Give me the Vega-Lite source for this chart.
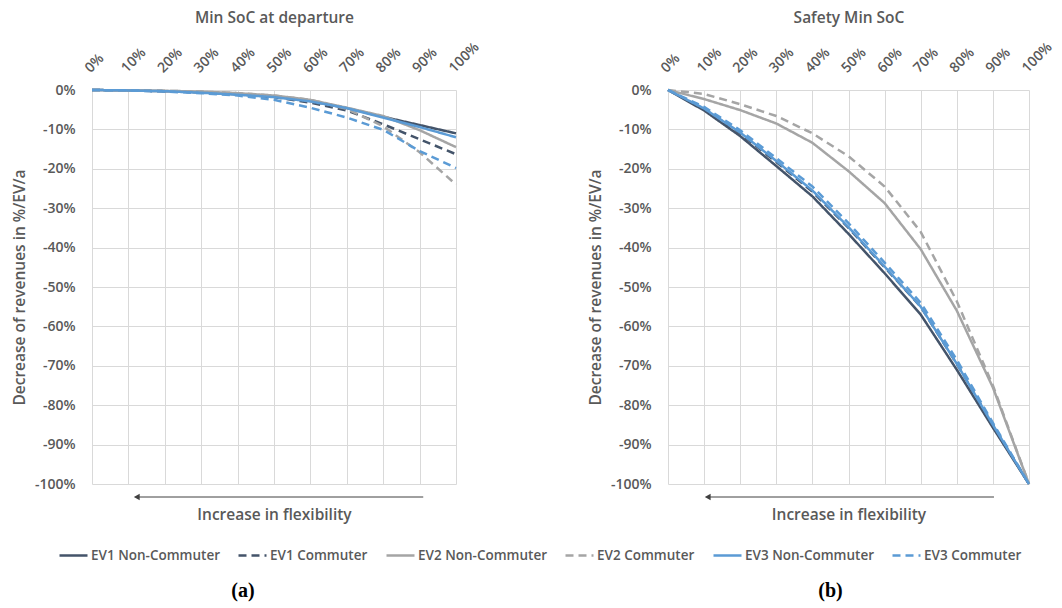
{
  "$schema": "https://vega.github.io/schema/vega-lite/v6.json",
  "padding": {"left": 12, "top": 10, "right": 5, "bottom": 5},
  "background": "white",
  "config": {
    "font": "Open Sans",
    "view": {"stroke": null},
    "axis": {
      "labelFont": "Open Sans", "labelFontWeight": 600, "labelFontSize": 14, "labelColor": "#595959", "labelOverlap": false,
      "titleFont": "Open Sans", "titleFontWeight": 600, "titleFontSize": 15.5, "titleColor": "#595959",
      "gridColor": "#d9d9d9", "gridWidth": 1, "domain": false, "ticks": false
    },
    "legend": {
      "labelFont": "Open Sans", "labelFontWeight": 600, "labelFontSize": 13.5, "labelColor": "#595959"
    }
  },
  "datasets": {
    "a": [
      {"soc":0,"rev":0,"series":"EV1 Non-Commuter"},{"soc":10,"rev":-0.1,"series":"EV1 Non-Commuter"},{"soc":20,"rev":-0.3,"series":"EV1 Non-Commuter"},{"soc":30,"rev":-0.6,"series":"EV1 Non-Commuter"},{"soc":40,"rev":-1.1,"series":"EV1 Non-Commuter"},{"soc":50,"rev":-1.7,"series":"EV1 Non-Commuter"},{"soc":60,"rev":-2.8,"series":"EV1 Non-Commuter"},{"soc":70,"rev":-4.6,"series":"EV1 Non-Commuter"},{"soc":80,"rev":-6.8,"series":"EV1 Non-Commuter"},{"soc":90,"rev":-8.9,"series":"EV1 Non-Commuter"},{"soc":100,"rev":-11,"series":"EV1 Non-Commuter"},
      {"soc":0,"rev":0,"series":"EV1 Commuter"},{"soc":10,"rev":-0.1,"series":"EV1 Commuter"},{"soc":20,"rev":-0.3,"series":"EV1 Commuter"},{"soc":30,"rev":-0.6,"series":"EV1 Commuter"},{"soc":40,"rev":-1.1,"series":"EV1 Commuter"},{"soc":50,"rev":-1.8,"series":"EV1 Commuter"},{"soc":60,"rev":-3.2,"series":"EV1 Commuter"},{"soc":70,"rev":-5.2,"series":"EV1 Commuter"},{"soc":80,"rev":-8.7,"series":"EV1 Commuter"},{"soc":90,"rev":-12.5,"series":"EV1 Commuter"},{"soc":100,"rev":-16.3,"series":"EV1 Commuter"},
      {"soc":0,"rev":0,"series":"EV2 Non-Commuter"},{"soc":10,"rev":-0.1,"series":"EV2 Non-Commuter"},{"soc":20,"rev":-0.2,"series":"EV2 Non-Commuter"},{"soc":30,"rev":-0.4,"series":"EV2 Non-Commuter"},{"soc":40,"rev":-0.8,"series":"EV2 Non-Commuter"},{"soc":50,"rev":-1.4,"series":"EV2 Non-Commuter"},{"soc":60,"rev":-2.5,"series":"EV2 Non-Commuter"},{"soc":70,"rev":-4.5,"series":"EV2 Non-Commuter"},{"soc":80,"rev":-6.6,"series":"EV2 Non-Commuter"},{"soc":90,"rev":-10.2,"series":"EV2 Non-Commuter"},{"soc":100,"rev":-14.5,"series":"EV2 Non-Commuter"},
      {"soc":0,"rev":0,"series":"EV2 Commuter"},{"soc":10,"rev":-0.1,"series":"EV2 Commuter"},{"soc":20,"rev":-0.2,"series":"EV2 Commuter"},{"soc":30,"rev":-0.4,"series":"EV2 Commuter"},{"soc":40,"rev":-0.8,"series":"EV2 Commuter"},{"soc":50,"rev":-1.4,"series":"EV2 Commuter"},{"soc":60,"rev":-2.5,"series":"EV2 Commuter"},{"soc":70,"rev":-4.8,"series":"EV2 Commuter"},{"soc":80,"rev":-9.2,"series":"EV2 Commuter"},{"soc":90,"rev":-15.8,"series":"EV2 Commuter"},{"soc":100,"rev":-24,"series":"EV2 Commuter"},
      {"soc":0,"rev":0,"series":"EV3 Non-Commuter"},{"soc":10,"rev":-0.1,"series":"EV3 Non-Commuter"},{"soc":20,"rev":-0.3,"series":"EV3 Non-Commuter"},{"soc":30,"rev":-0.7,"series":"EV3 Non-Commuter"},{"soc":40,"rev":-1.2,"series":"EV3 Non-Commuter"},{"soc":50,"rev":-1.8,"series":"EV3 Non-Commuter"},{"soc":60,"rev":-2.9,"series":"EV3 Non-Commuter"},{"soc":70,"rev":-4.6,"series":"EV3 Non-Commuter"},{"soc":80,"rev":-7,"series":"EV3 Non-Commuter"},{"soc":90,"rev":-9.4,"series":"EV3 Non-Commuter"},{"soc":100,"rev":-12,"series":"EV3 Non-Commuter"},
      {"soc":0,"rev":0,"series":"EV3 Commuter"},{"soc":10,"rev":-0.1,"series":"EV3 Commuter"},{"soc":20,"rev":-0.4,"series":"EV3 Commuter"},{"soc":30,"rev":-0.8,"series":"EV3 Commuter"},{"soc":40,"rev":-1.4,"series":"EV3 Commuter"},{"soc":50,"rev":-2.5,"series":"EV3 Commuter"},{"soc":60,"rev":-4.5,"series":"EV3 Commuter"},{"soc":70,"rev":-7,"series":"EV3 Commuter"},{"soc":80,"rev":-10.1,"series":"EV3 Commuter"},{"soc":90,"rev":-15.5,"series":"EV3 Commuter"},{"soc":100,"rev":-19.8,"series":"EV3 Commuter"}
    ],
    "b": [
      {"soc":0,"rev":0,"series":"EV1 Non-Commuter"},{"soc":10,"rev":-5.2,"series":"EV1 Non-Commuter"},{"soc":20,"rev":-11.7,"series":"EV1 Non-Commuter"},{"soc":30,"rev":-19.3,"series":"EV1 Non-Commuter"},{"soc":40,"rev":-27,"series":"EV1 Non-Commuter"},{"soc":50,"rev":-36.5,"series":"EV1 Non-Commuter"},{"soc":60,"rev":-46.5,"series":"EV1 Non-Commuter"},{"soc":70,"rev":-57,"series":"EV1 Non-Commuter"},{"soc":80,"rev":-71,"series":"EV1 Non-Commuter"},{"soc":90,"rev":-85.7,"series":"EV1 Non-Commuter"},{"soc":100,"rev":-100,"series":"EV1 Non-Commuter"},
      {"soc":0,"rev":0,"series":"EV1 Commuter"},{"soc":10,"rev":-4.8,"series":"EV1 Commuter"},{"soc":20,"rev":-11,"series":"EV1 Commuter"},{"soc":30,"rev":-18.3,"series":"EV1 Commuter"},{"soc":40,"rev":-25.8,"series":"EV1 Commuter"},{"soc":50,"rev":-35,"series":"EV1 Commuter"},{"soc":60,"rev":-45,"series":"EV1 Commuter"},{"soc":70,"rev":-55,"series":"EV1 Commuter"},{"soc":80,"rev":-69.5,"series":"EV1 Commuter"},{"soc":90,"rev":-85,"series":"EV1 Commuter"},{"soc":100,"rev":-100,"series":"EV1 Commuter"},
      {"soc":0,"rev":0,"series":"EV2 Non-Commuter"},{"soc":10,"rev":-2.3,"series":"EV2 Non-Commuter"},{"soc":20,"rev":-5.1,"series":"EV2 Non-Commuter"},{"soc":30,"rev":-8.5,"series":"EV2 Non-Commuter"},{"soc":40,"rev":-13.4,"series":"EV2 Non-Commuter"},{"soc":50,"rev":-20.6,"series":"EV2 Non-Commuter"},{"soc":60,"rev":-28.7,"series":"EV2 Non-Commuter"},{"soc":70,"rev":-40.4,"series":"EV2 Non-Commuter"},{"soc":80,"rev":-56,"series":"EV2 Non-Commuter"},{"soc":90,"rev":-75.5,"series":"EV2 Non-Commuter"},{"soc":100,"rev":-100,"series":"EV2 Non-Commuter"},
      {"soc":0,"rev":0,"series":"EV2 Commuter"},{"soc":10,"rev":-1,"series":"EV2 Commuter"},{"soc":20,"rev":-3.6,"series":"EV2 Commuter"},{"soc":30,"rev":-6.6,"series":"EV2 Commuter"},{"soc":40,"rev":-11,"series":"EV2 Commuter"},{"soc":50,"rev":-16.8,"series":"EV2 Commuter"},{"soc":60,"rev":-24.5,"series":"EV2 Commuter"},{"soc":70,"rev":-36,"series":"EV2 Commuter"},{"soc":80,"rev":-53.6,"series":"EV2 Commuter"},{"soc":90,"rev":-75,"series":"EV2 Commuter"},{"soc":100,"rev":-100,"series":"EV2 Commuter"},
      {"soc":0,"rev":0,"series":"EV3 Non-Commuter"},{"soc":10,"rev":-4.7,"series":"EV3 Non-Commuter"},{"soc":20,"rev":-10.8,"series":"EV3 Non-Commuter"},{"soc":30,"rev":-18,"series":"EV3 Non-Commuter"},{"soc":40,"rev":-25.5,"series":"EV3 Non-Commuter"},{"soc":50,"rev":-34.8,"series":"EV3 Non-Commuter"},{"soc":60,"rev":-44.8,"series":"EV3 Non-Commuter"},{"soc":70,"rev":-55,"series":"EV3 Non-Commuter"},{"soc":80,"rev":-69.5,"series":"EV3 Non-Commuter"},{"soc":90,"rev":-85,"series":"EV3 Non-Commuter"},{"soc":100,"rev":-100,"series":"EV3 Non-Commuter"},
      {"soc":0,"rev":0,"series":"EV3 Commuter"},{"soc":10,"rev":-4.3,"series":"EV3 Commuter"},{"soc":20,"rev":-10.2,"series":"EV3 Commuter"},{"soc":30,"rev":-17.3,"series":"EV3 Commuter"},{"soc":40,"rev":-24.5,"series":"EV3 Commuter"},{"soc":50,"rev":-33.8,"series":"EV3 Commuter"},{"soc":60,"rev":-43.8,"series":"EV3 Commuter"},{"soc":70,"rev":-54,"series":"EV3 Commuter"},{"soc":80,"rev":-68.5,"series":"EV3 Commuter"},{"soc":90,"rev":-84.5,"series":"EV3 Commuter"},{"soc":100,"rev":-100,"series":"EV3 Commuter"}
    ],
    "arrowA": [{"from": 91, "to": 12.3, "rev": -103.3}],
    "arrowB": [{"from": 90.3, "to": 11, "rev": -103.3}]
  },
  "spacing": 106,
  "hconcat": [
    {
      "width": 364, "height": 394,
      "title": {"text": "(a)", "orient": "bottom", "frame": "bounds", "anchor": "middle", "offset": 58, "dx": -4, "font": "Liberation Serif", "fontSize": 20, "fontWeight": "bold", "color": "#000000"},
      "resolve": {"axis": {"x": "independent"}},
      "encoding": {
        "y": {"field": "rev", "type": "quantitative", "scale": {"domain": [-100, 0], "nice": false},
              "axis": {"values": [-100,-90,-80,-70,-60,-50,-40,-30,-20,-10,0], "labelExpr": "datum.value + '%'", "labelOverlap": false, "labelPadding": 17, "title": "Decrease of revenues in %/EV/a", "titlePadding": 7, "grid": true}}
      },
      "layer": [
        {
          "data": {"name": "a"},
          "mark": {"type": "line", "strokeWidth": 2.5},
          "encoding": {
            "x": {"field": "soc", "type": "quantitative", "scale": {"domain": [0, 100], "nice": false},
                  "axis": {"orient": "top", "values": [0,10,20,30,40,50,60,70,80,90,100], "labelExpr": "datum.value + '%'", "labelAngle": -45, "labelPadding": 15, "title": "Min SoC at departure", "titlePadding": 14, "grid": true}},
            "color": {"field": "series", "type": "nominal",
                      "scale": {"domain": ["EV1 Non-Commuter","EV1 Commuter","EV2 Non-Commuter","EV2 Commuter","EV3 Non-Commuter","EV3 Commuter"], "range": ["#44546A","#44546A","#A5A5A5","#A5A5A5","#5B9BD5","#5B9BD5"]},
                      "legend": {"title": null, "orient": "none", "direction": "horizontal", "legendX": -34, "legendY": 450, "symbolType": "stroke", "symbolSize": 784, "symbolStrokeWidth": 2.5, "columnPadding": 13, "labelOffset": 2}},
            "strokeDash": {"field": "series", "type": "nominal",
                      "scale": {"domain": ["EV1 Non-Commuter","EV1 Commuter","EV2 Non-Commuter","EV2 Commuter","EV3 Non-Commuter","EV3 Commuter"], "range": [[1,0],[8,5],[1,0],[8,5],[1,0],[8,5]]},
                      "legend": {"title": null, "orient": "none", "direction": "horizontal", "legendX": -34, "legendY": 450, "symbolType": "stroke", "symbolSize": 784, "symbolStrokeWidth": 2.5, "columnPadding": 13, "labelOffset": 2}}
          }
        },
        {
          "data": {"name": "arrowA"},
          "mark": {"type": "rule", "color": "#404040", "strokeWidth": 1},
          "encoding": {
            "x": {"field": "from", "type": "quantitative", "axis": {"orient": "bottom", "title": "Increase in flexibility", "labels": false, "grid": false, "titlePadding": 23}},
            "x2": {"field": "to"}
          }
        },
        {
          "data": {"name": "arrowA"},
          "mark": {"type": "point", "shape": "triangle-left", "filled": true, "size": 45, "color": "#404040", "opacity": 1},
          "encoding": {
            "x": {"field": "to", "type": "quantitative", "axis": null}
          }
        }
      ]
    },
    {
      "width": 361, "height": 394,
      "title": {"text": "(b)", "orient": "bottom", "frame": "bounds", "anchor": "middle", "offset": 58, "dx": 9, "font": "Liberation Serif", "fontSize": 20, "fontWeight": "bold", "color": "#000000"},
      "resolve": {"axis": {"x": "independent"}},
      "encoding": {
        "y": {"field": "rev", "type": "quantitative", "scale": {"domain": [-100, 0], "nice": false},
              "axis": {"values": [-100,-90,-80,-70,-60,-50,-40,-30,-20,-10,0], "labelExpr": "datum.value + '%'", "labelOverlap": false, "labelPadding": 17, "title": "Decrease of revenues in %/EV/a", "titlePadding": 7, "grid": true}}
      },
      "layer": [
        {
          "data": {"name": "b"},
          "mark": {"type": "line", "strokeWidth": 2.5},
          "encoding": {
            "x": {"field": "soc", "type": "quantitative", "scale": {"domain": [0, 100], "nice": false},
                  "axis": {"orient": "top", "values": [0,10,20,30,40,50,60,70,80,90,100], "labelExpr": "datum.value + '%'", "labelAngle": -45, "labelPadding": 15, "title": "Safety Min SoC", "titlePadding": 14, "grid": true}},
            "color": {"field": "series", "type": "nominal",
                      "scale": {"domain": ["EV1 Non-Commuter","EV1 Commuter","EV2 Non-Commuter","EV2 Commuter","EV3 Non-Commuter","EV3 Commuter"], "range": ["#44546A","#44546A","#A5A5A5","#A5A5A5","#5B9BD5","#5B9BD5"]}},
            "strokeDash": {"field": "series", "type": "nominal",
                      "scale": {"domain": ["EV1 Non-Commuter","EV1 Commuter","EV2 Non-Commuter","EV2 Commuter","EV3 Non-Commuter","EV3 Commuter"], "range": [[1,0],[8,5],[1,0],[8,5],[1,0],[8,5]]}}
          }
        },
        {
          "data": {"name": "arrowB"},
          "mark": {"type": "rule", "color": "#404040", "strokeWidth": 1},
          "encoding": {
            "x": {"field": "from", "type": "quantitative", "axis": {"orient": "bottom", "title": "Increase in flexibility", "labels": false, "grid": false, "titlePadding": 23}},
            "x2": {"field": "to"}
          }
        },
        {
          "data": {"name": "arrowB"},
          "mark": {"type": "point", "shape": "triangle-left", "filled": true, "size": 45, "color": "#404040", "opacity": 1},
          "encoding": {
            "x": {"field": "to", "type": "quantitative", "axis": null}
          }
        }
      ]
    }
  ]
}
